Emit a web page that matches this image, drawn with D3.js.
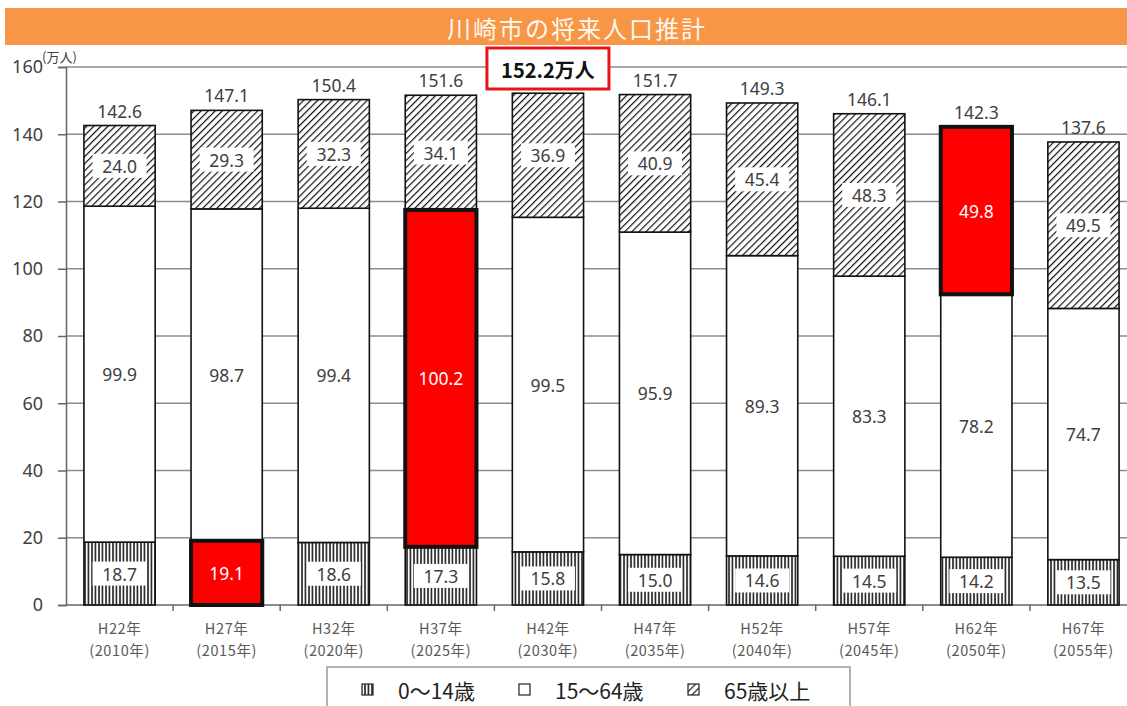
<!DOCTYPE html>
<html lang="ja">
<head>
<meta charset="utf-8">
<script src="https://cdn.jsdelivr.net/npm/d3@7"></script>
<style>
  html, body { margin: 0; padding: 0; background: #fff; }
  svg { display: block; font-family: "Noto Sans CJK JP", "Noto Sans", sans-serif; }
</style>
</head>
<body>
<svg id="chart" width="1127" height="706"></svg>
<script>
// 川崎市の将来人口推計（万人）
const categories = ["H22年", "H27年", "H32年", "H37年", "H42年", "H47年", "H52年", "H57年", "H62年", "H67年"];
const yearLabels = ["(2010年)", "(2015年)", "(2020年)", "(2025年)", "(2030年)", "(2035年)", "(2040年)", "(2045年)", "(2050年)", "(2055年)"];
const age0to14 = [18.7, 19.1, 18.6, 17.3, 15.8, 15.0, 14.6, 14.5, 14.2, 13.5];
const age15to64 = [99.9, 98.7, 99.4, 100.2, 99.5, 95.9, 89.3, 83.3, 78.2, 74.7];
const age65plus = [24.0, 29.3, 32.3, 34.1, 36.9, 40.9, 45.4, 48.3, 49.8, 49.5];
const totals = [142.6, 147.1, 150.4, 151.6, 152.2, 151.7, 149.3, 146.1, 142.3, 137.6];
const yTicks = [0, 20, 40, 60, 80, 100, 120, 140, 160];
const seriesKeys = ["age0to14", "age15to64", "age65plus"];
const seriesNames = ["0〜14歳", "15〜64歳", "65歳以上"];
// segments drawn in red: [category index, series key]
const highlighted = [[1, "age0to14"], [3, "age15to64"], [8, "age65plus"]];
const peakIndex = 4;
const peakLabel = "152.2万人";

const svg = d3.select("#chart");
const plotLeft = 66, plotBottom = 605, plotTop = 67;
const numFont = "'Noto Sans', sans-serif";

const x = d3.scaleBand().domain(categories).range([plotLeft, 1137]).paddingInner(0.335).paddingOuter(0.1675);
const y = d3.scaleLinear().domain([0, 160]).range([plotBottom, plotTop]);

// hatch patterns
const defs = svg.append("defs");
const diag = defs.append("pattern").attr("id", "diag").attr("patternUnits", "userSpaceOnUse")
  .attr("width", 5).attr("height", 5).attr("patternTransform", "rotate(45)");
diag.append("rect").attr("width", 5).attr("height", 5).attr("fill", "#fff");
diag.append("line").attr("x1", 0).attr("y1", 0).attr("x2", 0).attr("y2", 5)
  .attr("stroke", "#111").attr("stroke-width", 2.4);
const vert = defs.append("pattern").attr("id", "vert").attr("patternUnits", "userSpaceOnUse")
  .attr("width", 3.5).attr("height", 4);
vert.append("rect").attr("width", 3.5).attr("height", 4).attr("fill", "#fff");
vert.append("line").attr("x1", 1).attr("y1", 0).attr("x2", 1).attr("y2", 4)
  .attr("stroke", "#1a1a1a").attr("stroke-width", 1.6);

const fills = { age0to14: "url(#vert)", age15to64: "#fff", age65plus: "url(#diag)" };

// title bar
svg.append("rect").attr("x", 5).attr("y", 8).attr("width", 1130).attr("height", 37).attr("fill", "#F79646");
svg.append("text").attr("x", 577).attr("y", 27).attr("text-anchor", "middle").attr("dominant-baseline", "central")
  .attr("fill", "#fff8ee").attr("font-size", 24).attr("letter-spacing", 2).text("川崎市の将来人口推計");

// gridlines
svg.append("g").selectAll("line").data(yTicks.filter(d => d > 0)).join("line")
  .attr("x1", plotLeft).attr("x2", 1127).attr("y1", d => y(d)).attr("y2", d => y(d))
  .attr("stroke", "#8c8c8c").attr("stroke-width", 1.5);

// y axis
const yAxis = svg.append("g").attr("transform", `translate(${plotLeft},0)`)
  .call(d3.axisLeft(y).tickValues(yTicks).tickSize(8).tickPadding(15));
yAxis.select(".domain").attr("stroke", "#666").attr("stroke-width", 1.5);
yAxis.selectAll(".tick line").attr("stroke", "#666").attr("stroke-width", 1.5);
yAxis.selectAll(".tick text").attr("font-size", 18).attr("fill", "#404040").attr("font-family", numFont);
svg.append("text").attr("x", 42).attr("y", 62).attr("font-size", 13).attr("fill", "#404040").text("(万人)");

// x axis baseline with ticks at category boundaries
svg.append("line").attr("x1", plotLeft).attr("x2", 1127).attr("y1", plotBottom).attr("y2", plotBottom)
  .attr("stroke", "#666").attr("stroke-width", 1.5);
const gap = x.step() - x.bandwidth();
svg.append("g").selectAll("line").data(categories.slice(1)).join("line")
  .attr("x1", d => x(d) - gap / 2).attr("x2", d => x(d) - gap / 2)
  .attr("y1", plotBottom).attr("y2", plotBottom + 6).attr("stroke", "#666").attr("stroke-width", 1.5);

// stacked data
const rows = categories.map((c, i) => ({ cat: c, age0to14: age0to14[i], age15to64: age15to64[i], age65plus: age65plus[i] }));
const stacked = d3.stack().keys(seriesKeys)(rows);
const isHi = (i, key) => highlighted.some(h => h[0] === i && h[1] === key);

const segs = [];
stacked.forEach(layer => layer.forEach((d, i) => segs.push({ key: layer.key, i, y0: d[0], y1: d[1], v: d.data[layer.key], cat: d.data.cat })));

// normal segments first, highlighted on top
const ordered = segs.filter(s => !isHi(s.i, s.key)).concat(segs.filter(s => isHi(s.i, s.key)));
svg.append("g").selectAll("rect").data(ordered).join("rect")
  .attr("x", s => x(s.cat)).attr("width", x.bandwidth())
  .attr("y", s => y(s.y1)).attr("height", s => y(s.y0) - y(s.y1))
  .attr("fill", s => isHi(s.i, s.key) ? "#FF0000" : fills[s.key])
  .attr("stroke", "#111").attr("stroke-width", s => isHi(s.i, s.key) ? 4 : 1.6);

// segment value labels
const lab = svg.append("g");
segs.forEach(s => {
  const cx = x(s.cat) + x.bandwidth() / 2;
  const cy = (y(s.y0) + y(s.y1)) / 2;
  const hi = isHi(s.i, s.key);
  if (!hi && s.key !== "age15to64") {
    lab.append("rect").attr("x", cx - 27).attr("y", cy - 12).attr("width", 54).attr("height", 24).attr("fill", "#fff");
  }
  lab.append("text").attr("x", cx).attr("y", cy).attr("text-anchor", "middle").attr("dominant-baseline", "central")
    .attr("font-size", 17.5).attr("font-family", numFont)
    .attr("fill", hi ? "#fff" : "#404040").text(s.v.toFixed(1));
});

// totals above bars
svg.append("g").selectAll("text").data(categories.map((c, i) => ({ c, i })).filter(d => d.i !== peakIndex)).join("text")
  .attr("x", d => x(d.c) + x.bandwidth() / 2).attr("y", d => y(d3.sum(seriesKeys, k => rows[d.i][k])) - 8)
  .attr("text-anchor", "middle").attr("font-size", 17.5).attr("font-family", numFont)
  .attr("fill", "#404040").text(d => totals[d.i].toFixed(1));

// peak callout
const pcx = x(categories[peakIndex]) + x.bandwidth() / 2;
svg.append("rect").attr("x", pcx - 61).attr("y", 48).attr("width", 122).attr("height", 41)
  .attr("fill", "#fff").attr("stroke", "#E8141B").attr("stroke-width", 3);
svg.append("text").attr("x", pcx).attr("y", 69).attr("text-anchor", "middle").attr("dominant-baseline", "central")
  .attr("font-size", 20).attr("font-weight", "bold").attr("fill", "#111").text(peakLabel);

// x category labels (two lines)
const xl = svg.append("g");
categories.forEach((c, i) => {
  const cx = x(c) + x.bandwidth() / 2;
  xl.append("text").attr("x", cx).attr("y", 627).attr("text-anchor", "middle").attr("dominant-baseline", "central")
    .attr("font-size", 14.5).attr("letter-spacing", 0.6).attr("fill", "#595959").text(c);
  xl.append("text").attr("x", cx).attr("y", 649).attr("text-anchor", "middle").attr("dominant-baseline", "central")
    .attr("font-size", 14.5).attr("letter-spacing", 0.6).attr("fill", "#595959").text(yearLabels[i]);
});

// legend
svg.append("rect").attr("x", 327).attr("y", 667).attr("width", 523).attr("height", 60)
  .attr("fill", "#fff").attr("stroke", "#999").attr("stroke-width", 1.5);
const legendX = [362, 519, 688];
seriesKeys.forEach((k, j) => {
  svg.append("rect").attr("x", legendX[j]).attr("y", 684).attr("width", 11).attr("height", 11)
    .attr("fill", fills[k]).attr("stroke", "#222").attr("stroke-width", 1.2);
  svg.append("text").attr("x", legendX[j] + 36).attr("y", 690).attr("dominant-baseline", "central")
    .attr("font-size", 21).attr("fill", "#222").text(seriesNames[j]);
});
</script>
</body>
</html>
